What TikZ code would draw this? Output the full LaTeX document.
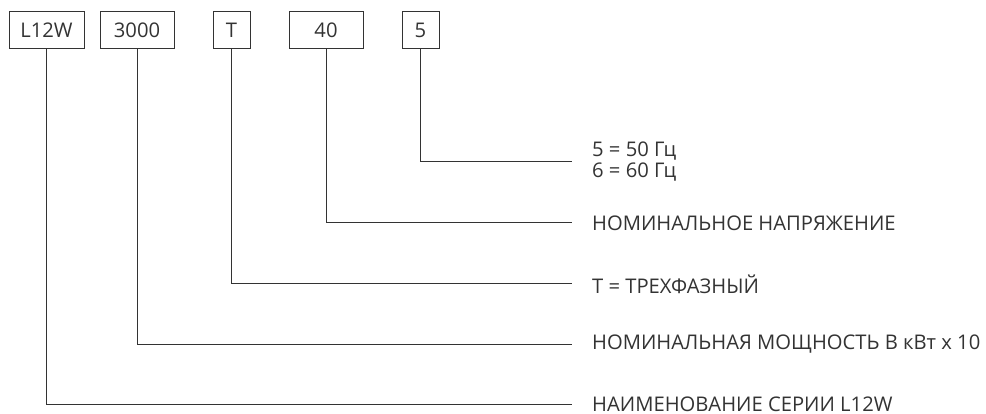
\documentclass[tikz,border=0pt]{standalone}
\usepackage{fontspec}
\setmainfont{Open Sans}
\usetikzlibrary{positioning}
\definecolor{inkgray}{HTML}{333333}
\tikzset{codebox/.style={draw=inkgray,line width=1pt,minimum height=37pt,inner sep=0pt,text=inkgray}}
\tikzset{legend/.style={anchor=west,inner ysep=0pt,inner xsep=20pt,align=left,text=inkgray}}
\begin{document}
\begin{tikzpicture}[x=1pt,y=-1pt,font=\fontsize{20.2}{21}\selectfont]
\useasboundingbox (0,0) rectangle (986,414);
% code fields
\node (series) [codebox,minimum width=75pt] at (46.5,30.5) {L12W};
\node (power) [codebox,minimum width=74pt] at (137,30.5) {3000};
\node (phase) [codebox,minimum width=37pt] at (231.5,30.5) {T};
\node (volt) [codebox,minimum width=74pt] at (326,30.5) {40};
\node (freq) [codebox,minimum width=37pt] at (420.5,30.5) {5};
% explanations
\node (freqtxt) [legend] at (572,162) {5 = 50 Гц\\6 = 60 Гц};
\node (volttxt) [legend] at (572,223) {НОМИНАЛЬНОЕ НАПРЯЖЕНИЕ};
\node (phasetxt) [legend] at (572,284) {T = ТРЕХФАЗНЫЙ};
\node (powertxt) [legend] at (572,344) {НОМИНАЛЬНАЯ МОЩНОСТЬ В кВт x 10};
\node (seriestxt) [legend] at (572,404) {НАИМЕНОВАНИЕ СЕРИИ L12W};
%
\draw[inkgray,line width=1pt] (freq.south) |- (freqtxt.west);
\draw[inkgray,line width=1pt] (volt.south) |- (volttxt.west);
\draw[inkgray,line width=1pt] (phase.south) |- (phasetxt.west);
\draw[inkgray,line width=1pt] (power.south) |- (powertxt.west);
\draw[inkgray,line width=1pt] (series.south) |- (seriestxt.west);
\end{tikzpicture}
\end{document}
